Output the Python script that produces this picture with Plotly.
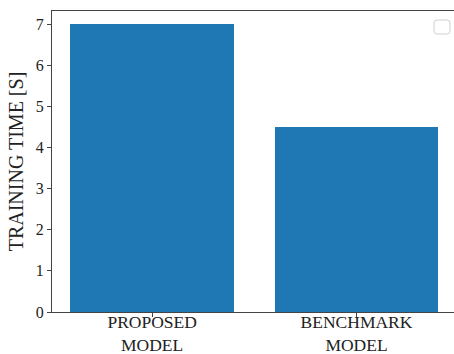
import plotly.graph_objects as go

categories = ["PROPOSED<br>MODEL", "BENCHMARK<br>MODEL"]
training_time = [7.0, 4.5]
y_ticks = [0, 1, 2, 3, 4, 5, 6, 7]

W, H = 454, 354
L, R, T, B = 52, 0, 11, 42

fig = go.Figure()
fig.add_trace(go.Bar(x=[0, 1], y=training_time, width=0.8,
                     marker=dict(color="#1f77b4", line=dict(width=0)),
                     showlegend=False))

font = dict(family="Liberation Serif, Times New Roman, serif", color="#222")

# empty legend box (rounded rectangle) in top-right corner
x0, x1 = (434 - L) / (W - L - R), (450 - L) / (W - L - R)
ph = H - T - B
y1, y0 = 1 - (20 - T) / ph, 1 - (34 - T) / ph
rx, ry = 3 / (W - L - R), 3 / ph
path = (f"M {x0+rx},{y1} L {x1-rx},{y1} Q {x1},{y1} {x1},{y1-ry} "
        f"L {x1},{y0+ry} Q {x1},{y0} {x1-rx},{y0} L {x0+rx},{y0} "
        f"Q {x0},{y0} {x0},{y0+ry} L {x0},{y1-ry} Q {x0},{y1} {x0+rx},{y1} Z")
fig.add_shape(type="path", path=path, xref="paper", yref="paper",
              line=dict(color="#d0d0d0", width=1), fillcolor="rgba(255,255,255,0.8)")

fig.update_layout(
    width=W, height=H,
    margin=dict(l=L, r=R, t=T, b=B, pad=0),
    plot_bgcolor="white", paper_bgcolor="white",
    font=dict(size=16, **font),
    bargap=0,
    xaxis=dict(range=[-0.49, 1.477], tickvals=[0, 1], ticktext=categories,
               showline=True, linecolor="#444", linewidth=1.2, mirror=True,
               ticks="outside", ticklen=4, tickcolor="#444", automargin=False,
               ticklabelstandoff=-10,
               tickfont=dict(size=17.5, **font), showgrid=False, zeroline=False),
    yaxis=dict(range=[0, 7.32], tickvals=y_ticks,
               showline=True, linecolor="#444", linewidth=1.2,
               ticks="outside", ticklen=4, tickcolor="#444", automargin=False,
               tickfont=dict(size=16, **font), showgrid=False, zeroline=False,
               title=dict(text="TRAINING TIME [S]", font=dict(size=20, **font), standoff=6)),
)

fig.write_html("out.html")
